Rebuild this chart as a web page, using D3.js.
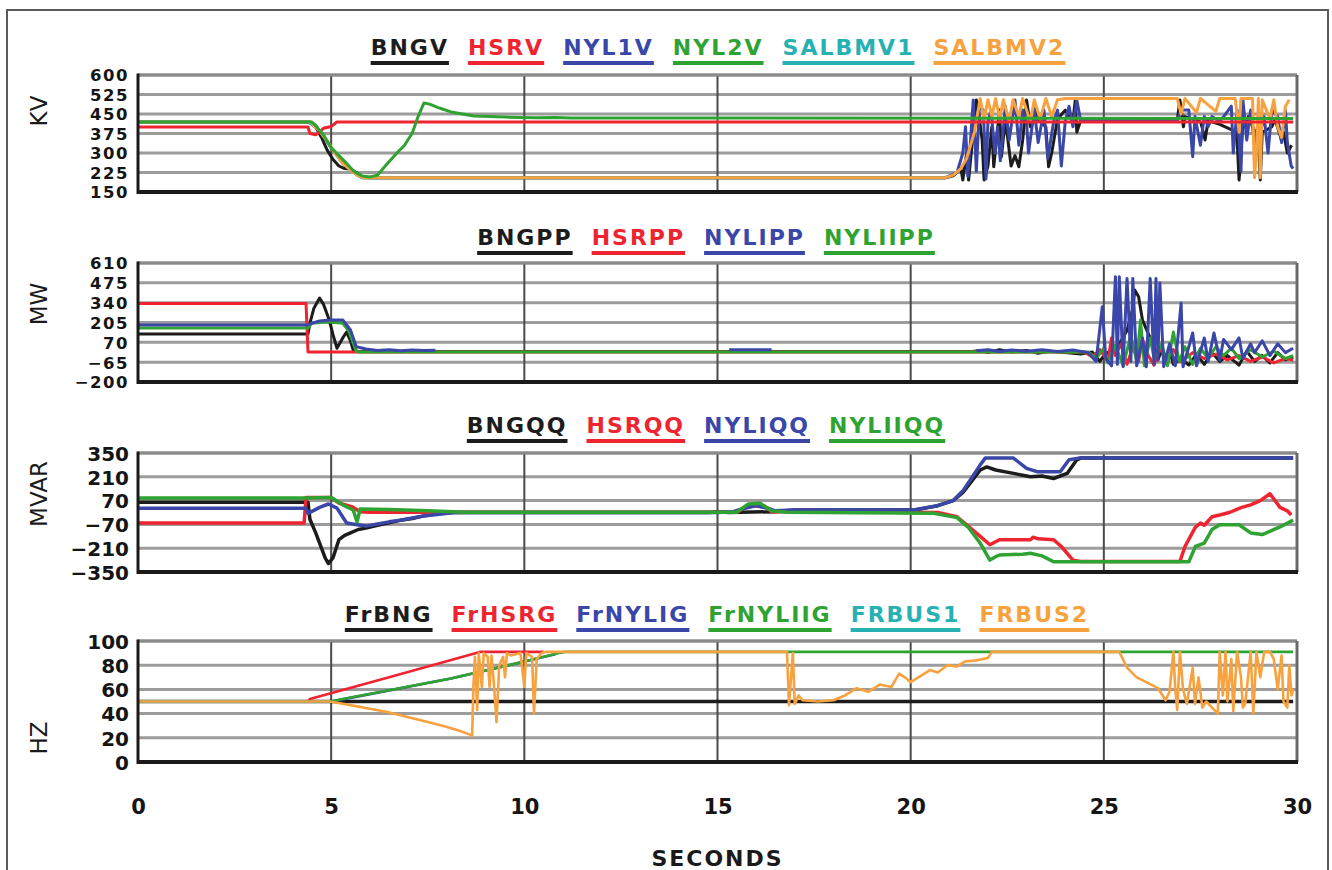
<!DOCTYPE html>
<html><head><meta charset="utf-8">
<script src="https://cdn.jsdelivr.net/npm/d3@7"></script>
<style>body{margin:0;background:#fff}svg{display:block}</style>
</head><body>
<svg id="c" width="1332" height="870"></svg>
<script>
// ---------- tick labels ----------
const secondTicks = [0, 5, 10, 15, 20, 25, 30];
const kvTicks = [600, 525, 450, 375, 300, 225, 150];
const mwTicks = [610, 475, 340, 205, 70, -65, -200];
const mvarTicks = [350, 210, 70, -70, -210, -350];
const hzTicks = [100, 80, 60, 40, 20, 0];

// ---------- series names ----------
const kvNames = ["BNGV", "HSRV", "NYL1V", "NYL2V", "SALBMV1", "SALBMV2"];
const mwNames = ["BNGPP", "HSRPP", "NYLIPP", "NYLIIPP"];
const mvarNames = ["BNGQQ", "HSRQQ", "NYLIQQ", "NYLIIQQ"];
const hzNames = ["FrBNG", "FrHSRG", "FrNYLIG", "FrNYLIIG", "FRBUS1", "FRBUS2"];

// ---------- KV panel: [seconds, value] ----------
const BNGV = [[0,419],[4.45,419],[4.6,400],[4.75,360],[4.9,310],[5.05,275],[5.2,250],[5.35,240],[5.5,238],[5.65,225],[5.8,208],[6,205],[20.9,205],
 [21.1,212],[21.3,240],[21.35,196],[21.45,300],[21.5,196],[21.6,350],[21.7,504],[21.75,465],[21.85,350],[21.9,196],[22.0,250],[22.1,400],[22.15,247],[22.3,465],[22.35,286],[22.45,430],[22.6,250],[22.7,290],[22.8,247],[22.9,350],[23.0,504],[23.1,401],[23.2,470],[23.3,430],[23.5,400],[23.57,247],[23.65,300],[23.8,430],[24.0,465],[24.2,420],[24.26,504],[24.3,380],[24.4,425],
 [26.9,425],[26.97,504],[27.06,401],[27.1,440],[27.5,420],[27.54,401],[27.62,350],[27.7,425],[28.0,410],[28.44,380],[28.5,196],[28.53,250],[28.6,420],[28.66,401],[28.74,440],[29.0,350],[29.05,196],[29.1,380],[29.35,401],[29.43,430],[29.6,350],[29.65,380],[29.75,300],[29.86,330]];
const HSRV = [[0,400],[4.4,400],[4.45,375],[4.6,370],[4.7,380],[4.8,395],[5.0,402],[5.15,419],[29.9,419]];
const NYL1V = [[0,419],[4.4,419],[4.5,415],[4.6,405],[4.8,365],[5.0,320],[5.2,285],[5.4,255],[5.6,225],[5.8,205],[20.9,205],
 [21.2,225],[21.35,300],[21.42,401],[21.48,210],[21.55,350],[21.62,504],[21.7,230],[21.78,480],[21.88,465],[21.95,200],[22.0,420],[22.08,465],[22.18,300],[22.25,401],[22.32,270],[22.45,480],[22.55,350],[22.7,504],[22.8,330],[22.9,465],[23.0,420],[23.05,300],[23.2,465],[23.3,340],[23.45,465],[23.55,280],[23.7,420],[23.8,465],[23.9,250],[24.0,420],[24.1,480],[24.2,401],[24.3,504],[24.4,425],
 [26.9,425],[27.0,465],[27.2,465],[27.3,286],[27.36,440],[27.5,330],[27.6,440],[27.7,401],[27.8,440],[28.0,420],[28.3,480],[28.35,300],[28.45,465],[28.55,230],[28.6,504],[28.7,350],[28.8,465],[28.9,330],[29.0,420],[29.05,380],[29.15,440],[29.25,300],[29.35,465],[29.5,440],[29.6,340],[29.7,465],[29.75,340],[29.85,250],[29.9,240]];
const NYL2V = [[0,419],[4.4,419],[4.5,419],[4.6,405],[4.8,370],[5.0,320],[5.2,290],[5.4,260],[5.6,228],[5.8,212],[6.0,208],[6.2,215],[6.4,250],[6.7,300],[6.9,330],[7.1,377],[7.25,440],[7.4,492],[7.55,488],[7.8,473],[8.1,458],[8.7,442],[9.5,438],[10.3,436],[10.8,437],[11.2,435],[29.9,433]];
const SALBMV1 = [[0,419],[4.4,419],[4.55,405],[4.7,385],[4.9,345],[5.1,300],[5.3,260],[5.5,235],[5.7,212],[5.85,205],[20.9,205]];
const SALBMV2 = [[0,419],[4.4,419],[4.5,418],[4.55,405],[4.7,385],[4.9,345],[5.1,300],[5.3,260],[5.5,235],[5.7,212],[5.85,205],[20.9,205],
 [21.1,215],[21.3,240],[21.45,280],[21.55,330],[21.65,380],[21.72,440],[21.8,510],[21.9,430],[22.0,505],[22.1,440],[22.2,510],[22.3,430],[22.4,505],[22.55,420],[22.65,505],[22.8,440],[22.9,510],[23.1,420],[23.2,505],[23.35,430],[23.5,510],[23.65,440],[23.8,505],[24.0,510],[24.4,510],
 [26.9,510],[27.0,450],[27.1,510],[27.4,455],[27.5,510],[27.9,460],[28.0,510],[28.4,510],[28.5,380],[28.55,510],[28.85,510],[28.9,205],[28.95,300],[29.0,510],[29.05,205],[29.1,505],[29.3,430],[29.4,505],[29.5,400],[29.6,360],[29.7,480],[29.8,505]];

// ---------- MW panel ----------
const BNGPP = [[0,127],[4.4,127],[4.45,200],[4.55,300],[4.7,372],[4.8,330],[4.95,222],[5.05,120],[5.15,30],[5.3,100],[5.4,140],[5.5,80],[5.57,17],[5.7,8],[21.6,8],
 [21.8,15],[22,0],[22.3,20],[22.6,5],[23,15],[23.3,-5],[23.6,10],[24,0],[24.4,-10],[24.7,5],[24.9,-60],[25.0,-20],[25.2,20],[25.4,60],[25.6,150],[25.75,300],[25.8,426],[25.9,380],[26.0,222],[26.1,160],[26.2,100],[26.3,40],[26.4,-50],[26.5,20],[26.6,-70],[26.7,10],[26.8,-80],[27.0,-40],[27.2,-85],[27.4,-10],[27.6,-80],[27.8,0],[28.0,-60],[28.2,-20],[28.5,-85],[28.7,10],[28.9,-60],[29.1,-20],[29.3,-70],[29.5,0],[29.7,-50],[29.9,-30]];
const HSRPP = [[0,335],[4.35,335],[4.4,5],[5.7,5],[24.5,5],
 [24.7,-30],[24.9,20],[25.1,-60],[25.2,100],[25.3,-20],[25.45,60],[25.6,-80],[25.75,40],[25.9,-60],[26.0,90],[26.15,-20],[26.3,-85],[26.45,30],[26.6,-40],[26.8,20],[27.0,-60],[27.3,0],[27.6,-40],[27.9,-10],[28.2,-50],[28.5,-20],[28.8,-60],[29.1,-30],[29.4,-70],[29.7,-40],[29.9,-50]];
const NYLIPP = [[0,188],[4.4,188],[4.5,200],[4.7,215],[4.9,220],[5.05,222],[5.3,222],[5.5,154],[5.65,40],[5.9,25],[6.2,15],[6.5,20],[6.8,12],[7.1,18],[7.4,14],[7.7,16],[7.75,null],
 [15.3,20],[16.4,20],[16.45,null],
 [21.7,12],[22,20],[22.3,8],[22.6,18],[23,10],[23.4,20],[23.8,8],[24.2,18],[24.6,0],[24.8,-60],[24.96,313],[25.05,-40],[25.2,-90],[25.3,517],[25.35,-80],[25.4,517],[25.5,-96],[25.6,505],[25.7,-60],[25.75,505],[25.85,-90],[26.0,100],[26.1,-96],[26.2,505],[26.3,-80],[26.35,505],[26.4,-50],[26.45,474],[26.55,-96],[26.7,60],[26.85,-90],[27.0,337],[27.05,-96],[27.2,40],[27.3,134],[27.4,-90],[27.6,100],[27.7,-60],[27.85,134],[28.0,-50],[28.1,90],[28.3,20],[28.5,100],[28.6,-40],[28.8,60],[28.9,0],[29.1,80],[29.3,-20],[29.5,60],[29.7,0],[29.9,30]];
const NYLIIPP = [[0,168],[4.4,168],[4.5,200],[4.7,205],[4.9,210],[5.1,205],[5.3,200],[5.45,150],[5.55,80],[5.65,10],[5.7,5],[24.6,5],
 [24.8,-40],[25.0,30],[25.1,-70],[25.3,50],[25.5,-90],[25.7,120],[25.85,-60],[25.95,222],[26.05,-90],[26.2,100],[26.3,-40],[26.5,60],[26.65,-90],[26.8,140],[26.95,-60],[27.1,40],[27.3,-80],[27.5,30],[27.7,-40],[27.9,40],[28.1,-20],[28.3,30],[28.5,-40],[28.8,20],[29.1,-30],[29.4,10],[29.7,-40],[29.9,-20]];

// ---------- MVAR panel ----------
const BNGQQ = [[0,60],[4.4,60],[4.45,-40],[4.6,-120],[4.7,-180],[4.85,-270],[4.93,-300],[5.05,-265],[5.2,-160],[5.35,-135],[5.5,-120],[5.7,-100],[5.9,-92],[6.2,-75],[6.5,-60],[6.8,-45],[7.1,-35],[7.4,-20],[7.65,-10],[8,0],[14.8,0],[15.0,5],[15.3,0],[16.5,5],[17,15],[20.1,15],[20.7,40],[21.1,70],[21.36,120],[21.6,190],[21.8,250],[21.97,268],[22.2,250],[22.66,230],[23.1,210],[23.4,215],[23.7,200],[24.05,230],[24.3,310],[24.4,320],[29.9,320]];
const HSRQQ = [[0,-62],[4.3,-62],[4.35,88],[5.0,88],[5.2,56],[5.55,33],[5.75,5],[6,2],[15.5,2],[15.8,40],[16.2,40],[16.4,5],[17,5],[20.7,0],[21.2,-25],[21.45,-72],[21.8,-140],[22.05,-190],[22.3,-160],[23.1,-160],[23.17,-145],[23.3,-155],[23.7,-160],[23.9,-200],[24.2,-280],[24.4,-288],[26.97,-288],[27.1,-200],[27.36,-90],[27.5,-62],[27.6,-75],[27.8,-25],[28.0,-15],[28.25,0],[28.57,30],[28.8,45],[29.05,70],[29.3,110],[29.56,30],[29.75,10],[29.85,-15]];
const NYLIQQ = [[0,25],[4.35,25],[4.4,-5],[4.7,30],[4.93,50],[5.15,26],[5.4,-62],[5.67,-72],[5.9,-80],[6.2,-68],[6.5,-55],[6.8,-45],[7.1,-32],[7.4,-20],[7.8,-10],[8.2,0],[15.0,0],[15.4,5],[15.7,25],[16.0,40],[16.3,25],[16.5,10],[16.95,15],[20.07,15],[20.7,40],[21.1,70],[21.36,130],[21.6,210],[21.8,280],[21.93,320],[22.66,320],[23.0,260],[23.27,240],[23.87,240],[24.1,310],[24.35,320],[29.9,320]];
const NYLIIQQ = [[0,85],[4.4,85],[5.0,88],[5.3,45],[5.57,15],[5.67,-55],[5.75,20],[6.5,18],[7.5,10],[8.5,2],[15.5,2],[15.8,50],[16.1,55],[16.4,10],[16.8,2],[20.6,-5],[21.2,-30],[21.5,-90],[21.8,-180],[22.05,-280],[22.2,-260],[22.3,-250],[22.9,-245],[23.1,-240],[23.4,-255],[23.7,-290],[27.2,-290],[27.37,-200],[27.6,-180],[27.8,-100],[28.0,-72],[28.5,-72],[28.8,-120],[29.1,-130],[29.56,-85],[29.9,-45]];

// ---------- HZ panel ----------
const FrBNG = [[0,50],[29.9,50]];
const FrHSRG = [[0,50],[4.4,50],[4.45,52],[6.5,70],[8.85,91],[10.5,91]];
const FrNYLIG = [[0,50],[5.0,50],[5.5,53],[8.1,69],[10.0,83],[10.8,89]];
const FrNYLIIG = [[0,50],[5.0,50],[5.3,52],[8.1,69],[10.0,83],[10.9,90],[11.05,91],[29.9,91]];
const FRBUS1 = [[0,50],[4.97,50]];
const FRBUS2 = [[0,50],[4.97,50],[5.5,47],[6,44],[6.5,41],[7,37],[7.5,33],[8.0,29],[8.3,26],[8.65,22],
 [8.68,62],[8.72,87],[8.78,43],[8.82,90],[8.9,62],[8.95,90],[9.05,87],[9.1,62],[9.15,88],[9.2,70],[9.28,33],[9.35,80],[9.45,87],[9.5,70],[9.55,90],[9.65,88],[9.9,90],[10.0,62],[10.05,90],[10.2,87],[10.25,40],[10.32,85],[10.45,90],[10.55,91],
 [16.8,91],[16.85,47],[16.95,90],[17.0,48],[17.1,55],[17.2,51],[17.6,50],[18.0,51],[18.3,55],[18.6,61],[18.9,58],[19.2,64],[19.5,62],[19.7,73],[19.85,70],[20.0,66],[20.3,72],[20.5,76],[20.7,74],[20.95,80],[21.2,79],[21.4,83],[21.7,84],[22.0,86],[22.1,91],
 [25.4,91],[25.6,78],[25.85,70],[26.1,66],[26.4,61],[26.6,51],[26.7,58],[26.8,91],[26.85,60],[26.9,43],[26.97,91],[27.05,60],[27.15,48],[27.3,78],[27.36,48],[27.45,70],[27.55,45],[27.65,50],[27.8,45],[27.95,40],[28.0,91],[28.08,55],[28.15,91],[28.2,50],[28.3,85],[28.35,42],[28.45,91],[28.55,70],[28.6,45],[28.66,48],[28.8,91],[28.87,40],[28.95,91],[29.05,70],[29.15,91],[29.3,91],[29.4,85],[29.5,60],[29.6,88],[29.65,50],[29.75,45],[29.8,80],[29.86,55],[29.9,60]];

// ---------- styling / layout ----------
const C = {black:"#1c1c1c", red:"#ee2530", blue:"#3a47a8", green:"#2fa332", teal:"#27b1b3", orange:"#f7a23e"};
const FONT = "'DejaVu Sans','Liberation Sans',Arial,sans-serif";

const panels = [
  {top:75, bottom:192, domain:[150,600], ticks:kvTicks, tickFont:16.5, title:"KV", titleY:111, legendY:55, legendCx:718,
   names:kvNames, colors:[C.black,C.red,C.blue,C.green,C.teal,C.orange],
   data:[BNGV,HSRV,NYL1V,NYL2V,SALBMV1,SALBMV2], order:[0,2,4,5,1,3], width:3},
  {top:263, bottom:382, domain:[-200,610], ticks:mwTicks, tickFont:16.5, title:"MW", titleY:304, legendY:245, legendCx:706,
   names:mwNames, colors:[C.black,C.red,C.blue,C.green],
   data:[BNGPP,HSRPP,NYLIPP,NYLIIPP], order:[0,1,3,2], width:3},
  {top:453, bottom:572, domain:[-350,350], ticks:mvarTicks, tickFont:20, title:"MVAR", titleY:494, legendY:433, legendCx:706,
   names:mvarNames, colors:[C.black,C.red,C.blue,C.green],
   data:[BNGQQ,HSRQQ,NYLIQQ,NYLIIQQ], order:[0,1,2,3], width:3.5},
  {top:641, bottom:762, domain:[0,100], ticks:hzTicks, tickFont:20, title:"HZ", titleY:738, legendY:622, legendCx:717,
   names:hzNames, colors:[C.black,C.red,C.blue,C.green,C.teal,C.orange],
   data:[FrBNG,FrHSRG,FrNYLIG,FrNYLIIG,FRBUS1,FRBUS2], order:[0,1,2,3,4,5], width:2.6}
];

const svg = d3.select("#c");
const X0 = 138, X1 = 1297;
const x = d3.scaleLinear().domain([0,30]).range([X0,X1]);

// outer frame
svg.append("rect").attr("x",7).attr("y",10).attr("width",1321).attr("height",880)
  .attr("fill","none").attr("stroke","#5a5a5a").attr("stroke-width",2);

panels.forEach(p => {
  const y = d3.scaleLinear().domain(p.domain).range([p.bottom,p.top]);
  const g = svg.append("g");

  // horizontal grid
  g.selectAll(".hg").data(p.ticks).join("line")
    .attr("x1",X0).attr("x2",X1).attr("y1",d=>y(d)).attr("y2",d=>y(d))
    .attr("stroke","#9c9c9c").attr("stroke-width",3);
  // vertical grid
  g.selectAll(".vg").data(secondTicks.slice(1,-1)).join("line")
    .attr("x1",d=>x(d)).attr("x2",d=>x(d)).attr("y1",p.top).attr("y2",p.bottom)
    .attr("stroke","#4a4a4a").attr("stroke-width",2);

  // y axis via d3.axisLeft (labels only)
  const ax = g.append("g").attr("transform",`translate(${X0-9},0)`)
    .call(d3.axisLeft(y).tickValues(p.ticks).tickSize(0).tickPadding(0).tickFormat(d3.format("d")));
  ax.select(".domain").remove();
  ax.selectAll("text").attr("font-family",FONT).attr("font-size",p.tickFont).attr("font-weight","bold")
    .attr("letter-spacing", p.tickFont < 18 ? 1.5 : 0)
    .attr("fill","#151515").attr("dy","0.36em");

  // y title
  g.append("text").attr("transform",`translate(47,${p.titleY}) rotate(-90)`)
    .attr("text-anchor","middle").attr("font-family",FONT).attr("font-size",23)
    .attr("fill","#1a1a1a").text(p.title);

  // data lines
  const line = d3.line().defined(d=>d[1]!=null).x(d=>x(d[0])).y(d=>y(d[1]));
  const clipId = "clip"+p.top;
  svg.append("clipPath").attr("id",clipId).append("rect")
    .attr("x",X0).attr("y",p.top-3).attr("width",X1-X0).attr("height",p.bottom-p.top+6);
  const lg = g.append("g").attr("clip-path",`url(#${clipId})`);
  p.order.forEach(i => {
    lg.append("path").attr("d",line(p.data[i])).attr("fill","none")
      .attr("stroke",p.colors[i]).attr("stroke-width", i===0 && p.top===641 ? 3.5 : p.width)
      .attr("stroke-linejoin","round");
  });

  // plot border
  g.append("line").attr("x1",X0).attr("x2",X1).attr("y1",p.top).attr("y2",p.top).attr("stroke","#8a8a8a").attr("stroke-width",3);
  g.append("line").attr("x1",X1).attr("x2",X1).attr("y1",p.top).attr("y2",p.bottom).attr("stroke","#6a6a6a").attr("stroke-width",3);
  g.append("line").attr("x1",X0).attr("x2",X1+1).attr("y1",p.bottom).attr("y2",p.bottom).attr("stroke","#1a1a1a").attr("stroke-width",4);
  g.append("line").attr("x1",X0).attr("x2",X0).attr("y1",p.top-1.5).attr("y2",p.bottom+2).attr("stroke","#1a1a1a").attr("stroke-width",3);

  // legend
  const gap = 19;
  const items = p.names.map((n,i) => {
    const t = g.append("text").attr("y",p.legendY).attr("font-family",FONT).attr("font-size",22)
      .attr("font-weight","bold").attr("letter-spacing",2).attr("fill",p.colors[i]).text(n);
    return {t, w: t.node().getComputedTextLength(), c:p.colors[i]};
  });
  const total = d3.sum(items,d=>d.w) + gap*(items.length-1);
  let cx = p.legendCx - total/2;
  items.forEach(it => {
    it.t.attr("x",cx);
    g.append("rect").attr("x",cx).attr("y",p.legendY+6).attr("width",it.w).attr("height",4).attr("fill",it.c);
    cx += it.w + gap;
  });
});

// x axis labels
const xa = svg.append("g").attr("transform","translate(0,806)")
  .call(d3.axisBottom(x).tickValues(secondTicks).tickSize(0).tickPadding(0).tickFormat(d3.format("d")));
xa.select(".domain").remove();
xa.selectAll("text").attr("font-family",FONT).attr("font-size",21).attr("font-weight","bold")
  .attr("fill","#151515").attr("dy","0.36em");

svg.append("text").attr("x",(X0+X1)/2).attr("y",866).attr("text-anchor","middle")
  .attr("font-family",FONT).attr("font-size",22).attr("font-weight","bold").attr("letter-spacing",2)
  .attr("fill","#1a1a1a").text("SECONDS");
</script>
</body></html>
